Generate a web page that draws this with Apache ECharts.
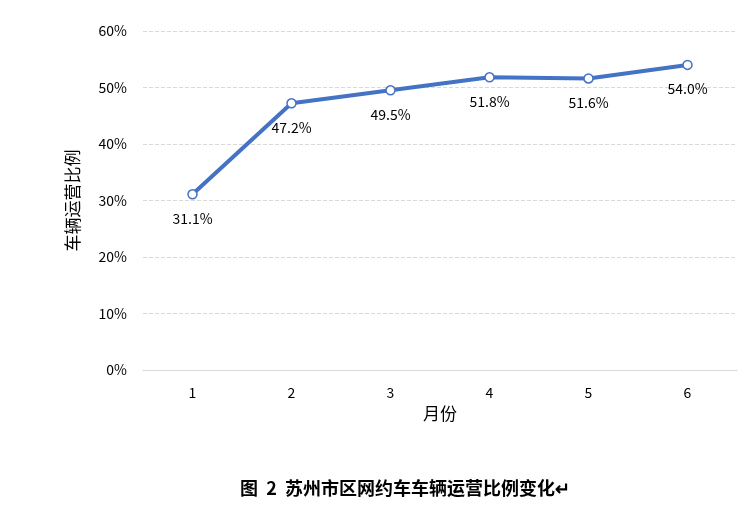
<!DOCTYPE html>
<html><head><meta charset="utf-8">
<script src="https://cdn.jsdelivr.net/npm/echarts@6/dist/echarts.min.js"></script>
<style>html,body{margin:0;padding:0;background:#fff}#c{width:755px;height:519px}</style>
</head><body><div id="c"></div>
<script>
var months = ['1', '2', '3', '4', '5', '6'];
var ratios = [31.1, 47.2, 49.5, 51.8, 51.6, 54.0];

var myChart = echarts.init(document.getElementById('c'));
var option = {
    textStyle: { fontFamily: 'Noto Sans CJK SC' },
    title: {
        text: '图  2  苏州市区网约车车辆运营比例变化↵',
        left: 400, top: 474, textAlign: 'center',
        textStyle: { fontSize: 18, fontWeight: 'bold', color: '#000', fontFamily: 'Noto Sans CJK SC' }
    },
    grid: { left: 143, right: 18, top: 31, bottom: 149 },
    xAxis: {
        type: 'category',
        data: months,
        name: '月份',
        nameLocation: 'middle',
        nameGap: 33,
        nameTextStyle: { fontSize: 17, color: '#000' },
        axisLine: { lineStyle: { color: '#d9d9d9' } },
        axisTick: { show: false },
        axisLabel: { color: '#000', fontSize: 14, margin: 16 }
    },
    yAxis: {
        type: 'value',
        min: 0, max: 60, interval: 10,
        name: '车辆运营比例',
        nameLocation: 'middle',
        nameGap: 62,
        nameTextStyle: { fontSize: 17, color: '#000' },
        axisLine: { show: false },
        axisTick: { show: false },
        axisLabel: { color: '#000', fontSize: 14, formatter: '{value}%', margin: 16 },
        splitLine: { lineStyle: { color: '#d9d9d9', type: 'dashed' } }
    },
    series: [{
        type: 'line',
        data: ratios,
        symbol: 'circle',
        symbolSize: 9,
        itemStyle: { color: '#fff', borderColor: '#4472c4', borderWidth: 1.5 },
        lineStyle: { color: '#4472c4', width: 4 },
        label: {
            show: true, position: 'bottom', distance: 12,
            color: '#000', fontSize: 14,
            formatter: function (p) { return p.value.toFixed(1) + '%'; }
        }
    }]
};
myChart.setOption(option, true);
</script></body></html>
